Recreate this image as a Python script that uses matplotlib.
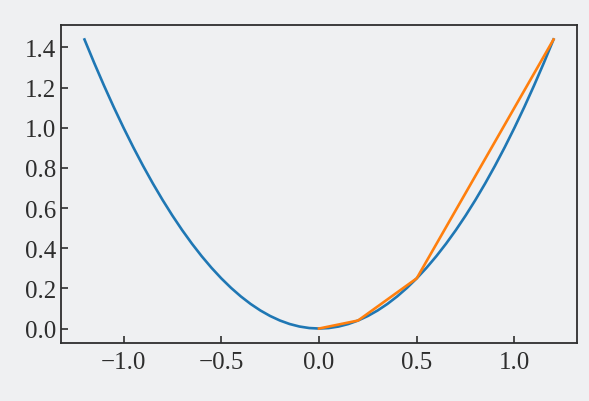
import matplotlib.pyplot as plt

# curve values (blue)
curve_x = [-1.2, -1.15, -1.1, -1.05, -1.0, -0.95, -0.9, -0.85, -0.8, -0.75, -0.7, -0.65,
           -0.6, -0.55, -0.5, -0.45, -0.4, -0.35, -0.3, -0.25, -0.2, -0.15, -0.1, -0.05,
           0.0, 0.05, 0.1, 0.15, 0.2, 0.25, 0.3, 0.35, 0.4, 0.45, 0.5, 0.55,
           0.6, 0.65, 0.7, 0.75, 0.8, 0.85, 0.9, 0.95, 1.0, 1.05, 1.1, 1.15, 1.2]
curve_y = [1.44, 1.3225, 1.21, 1.1025, 1.0, 0.9025, 0.81, 0.7225, 0.64, 0.5625, 0.49, 0.4225,
           0.36, 0.3025, 0.25, 0.2025, 0.16, 0.1225, 0.09, 0.0625, 0.04, 0.0225, 0.01, 0.0025,
           0.0, 0.0025, 0.01, 0.0225, 0.04, 0.0625, 0.09, 0.1225, 0.16, 0.2025, 0.25, 0.3025,
           0.36, 0.4225, 0.49, 0.5625, 0.64, 0.7225, 0.81, 0.9025, 1.0, 1.1025, 1.21, 1.3225, 1.44]

# coarse approximation (orange)
approx_x = [0.0, 0.2, 0.5, 1.2]
approx_y = [0.0, 0.04, 0.25, 1.44]

bg = "#eff0f2"
ink = "#2e2e2e"

plt.rcParams["font.family"] = ["Liberation Serif", "Times New Roman", "STIXGeneral", "DejaVu Serif"]
plt.rcParams["mathtext.fontset"] = "stix"

fig = plt.figure(figsize=(5.89, 4.02), dpi=100, facecolor=bg)
ax = fig.add_axes([0.1036, 0.1443, 0.876, 0.791])
ax.set_facecolor(bg)

ax.plot(curve_x, curve_y, color="#1f77b4", linewidth=1.9)
ax.plot(approx_x, approx_y, color="#ff7f0e", linewidth=1.9)

ax.set_xticks([-1.0, -0.5, 0.0, 0.5, 1.0])
ax.set_yticks([0.0, 0.2, 0.4, 0.6, 0.8, 1.0, 1.2, 1.4])
ax.tick_params(direction="in", length=5, width=1.2, color=ink,
               labelsize=18, labelcolor=ink)
ax.tick_params(axis="x", pad=6)
ax.tick_params(axis="y", pad=3.7)
for s in ax.spines.values():
    s.set_color(ink)
    s.set_linewidth(1.3)

fig.savefig("out.png", dpi=100, facecolor=bg)
